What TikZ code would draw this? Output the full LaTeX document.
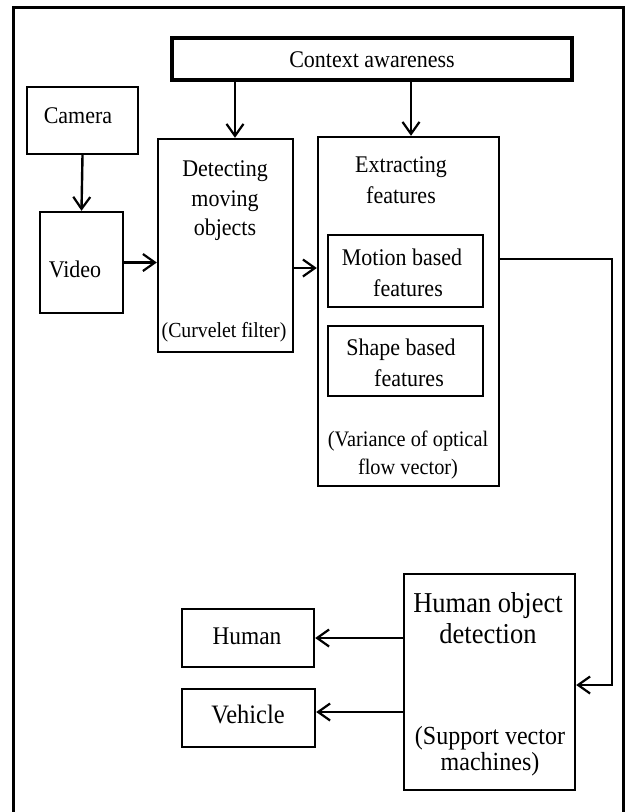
\documentclass[tikz,border=0pt]{standalone}
\usepackage{fontspec}
\setmainfont[FakeStretch=0.92]{Liberation Serif}
\usetikzlibrary{arrows.meta}
\begin{document}
\begin{tikzpicture}[x=1pt,y=-1pt,
  box/.style={draw,line width=2.4pt,rectangle,inner sep=0pt},
  txt/.style={inner sep=0pt,align=center,font=\fontsize{23.9}{30.5}\selectfont},
  arr/.style={line width=2.4pt,-{Straight Barb[length=12pt,width=17pt,line width=2.2pt]}},
  thinarr/.style={line width=1.6pt,-{Straight Barb[length=12pt,width=17pt,line width=2.2pt]}}]
\useasboundingbox (0,0) rectangle (625,812);
\fill[white] (0,0) rectangle (625,812);
% outer frame
\draw[line width=3pt] (13,815) -- (13,7) -- (623,7) -- (623,815);
% boxes
\node[box,line width=3.8pt,minimum width=400pt,minimum height=42pt] (ctx) at (372,59) {};
\node[txt] (ctxt) at (372,60) {Context awareness};
\node[box,minimum width=111pt,minimum height=67pt] (cam) at (82.5,120.5) {};
\node[txt] (camt) at (78,116) {Camera};
\node[box,minimum width=83pt,minimum height=101pt] (vid) at (81.5,262.5) {};
\node[txt] (vidt) at (75,269) {Video};
\node[box,minimum width=135pt,minimum height=213pt] (det) at (225.5,245.5) {};
\node[txt,font=\fontsize{23.9}{29.5}\selectfont] (dett) at (225,201) {Detecting\\moving\\objects};
\node[txt,font=\fontsize{21.5}{24}\selectfont] (detb) at (224,332) {(Curvelet filter)};
\node[box,minimum width=181pt,minimum height=349pt] (ext) at (408.5,311.5) {};
\node[txt] (extt) at (401,180) {Extracting\\features};
\node[box,line width=2pt,minimum width=155pt,minimum height=72pt] (mot) at (405.5,271) {};
\node[txt] (mott) at (402,273) {Motion based\\\hspace*{12pt}features};
\node[box,line width=2pt,minimum width=155pt,minimum height=70pt] (shp) at (405.5,361) {};
\node[txt] (shpt) at (401,363) {Shape based\\\hspace*{16pt}features};
\node[txt,font=\fontsize{22.1}{28}\selectfont] (extb) at (408,455) {(Variance of optical\\flow vector)};
\node[box,minimum width=171pt,minimum height=216pt] (hod) at (489.5,682) {};
\node[txt,font=\fontsize{28.8}{31}\selectfont] (hodt) at (488,618) {Human object\\detection};
\node[txt,font=\fontsize{26.1}{25.5}\selectfont] (hodb) at (490,751) {(Support vector\\machines)};
\node[box,minimum width=132pt,minimum height=58pt] (hum) at (248,638) {};
\node[txt,font=\fontsize{25.4}{24}\selectfont] (humt) at (247,636) {Human};
\node[box,minimum width=133pt,minimum height=58pt] (veh) at (248.5,718) {};
\node[txt,font=\fontsize{26.6}{24}\selectfont] (veht) at (248,714) {Vehicle};
% connectors
\draw[arr] (cam.south) -- (vid.north);
\draw[arr] (ctx.south -| 235,0) -- (det.north -| 235,0);
\draw[arr] (ctx.south -| 411,0) -- (ext.north -| 411,0);
\draw[arr] (vid.east) -- (det.west |- vid.east);
\draw[arr] (det.east |- 0,268) -- (ext.west |- 0,268);
\coordinate (r1) at (612,259);
\coordinate (r2) at (612,685);
\draw[thinarr] (ext.east |- r1) -- (r1) -- (r2) -- (hod.east |- r2);
\draw[arr] (hod.west |- hum.east) -- (hum.east);
\draw[arr] (hod.west |- 0,712) -- (veh.east |- 0,712);
\end{tikzpicture}
\end{document}
